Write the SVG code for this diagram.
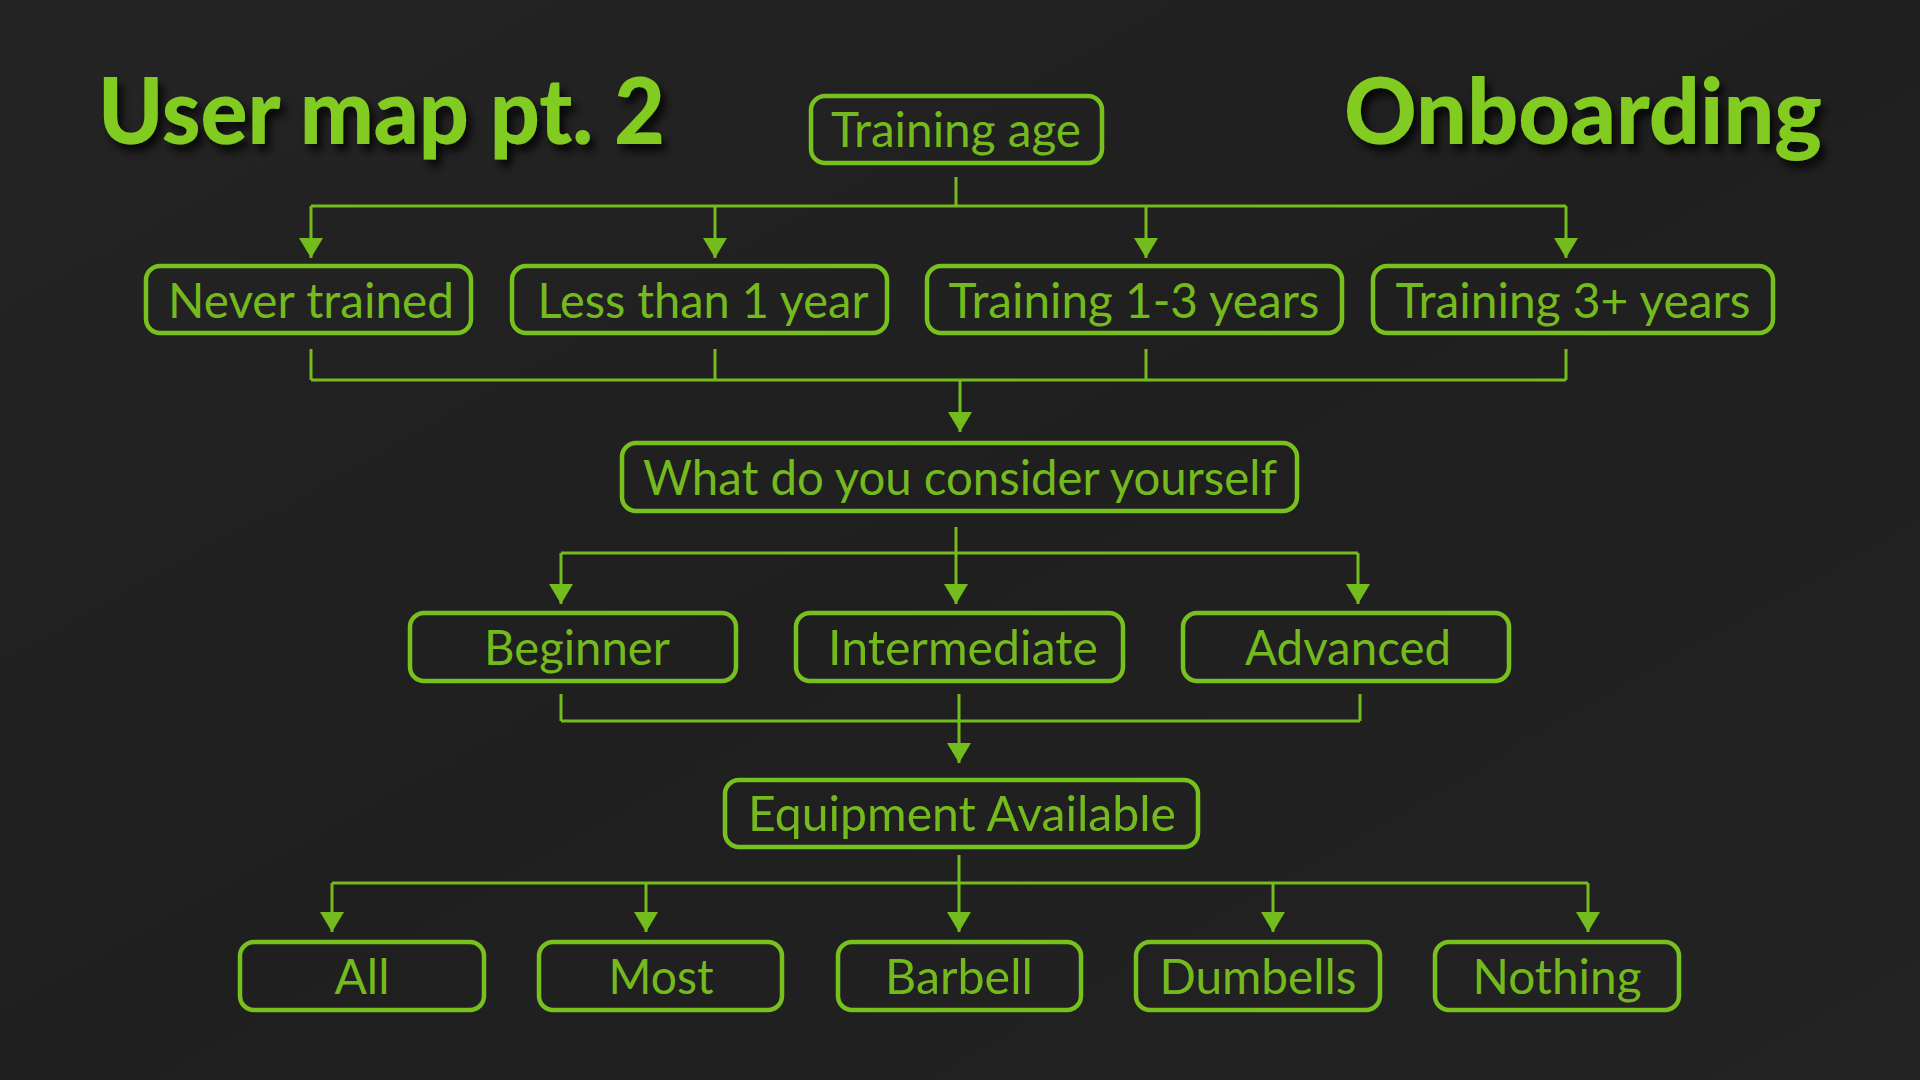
<svg xmlns="http://www.w3.org/2000/svg" width="1920" height="1080" viewBox="0 0 1920 1080">
<defs>
<linearGradient id="bg" x1="0" y1="0" x2="1" y2="1">
<stop offset="0" stop-color="#242424"/>
<stop offset="0.5" stop-color="#1f1f1f"/>
<stop offset="1" stop-color="#232323"/>
</linearGradient>
<filter id="tshadow" x="-10%" y="-20%" width="130%" height="160%">
<feDropShadow dx="5" dy="7" stdDeviation="4" flood-color="#000" flood-opacity="0.8"/>
</filter>
<marker id="arr" viewBox="0 0 20 24" refX="20" refY="12" markerWidth="20" markerHeight="24" markerUnits="userSpaceOnUse" orient="auto">
<path d="M0,0 L20,12 L0,24 z" fill="#74bb1d"/>
</marker>
</defs>
<style>
.box{fill:none;stroke:#77c01e;stroke-width:4.5}
.lbl{font-family:Lato,"Liberation Sans",sans-serif;font-size:48px;fill:#74ba1e;text-anchor:middle}
.title{font-family:Lato,"Liberation Sans",sans-serif;font-weight:900;font-size:91px;fill:#82cc22;filter:url(#tshadow)}
.con{fill:none;stroke:#74bb1d;stroke-width:3}
</style>
<rect width="1920" height="1080" fill="url(#bg)"/>

<text class="title" x="98" y="144" textLength="567" lengthAdjust="spacingAndGlyphs">User map pt. 2</text>
<text class="title" x="1344" y="144" textLength="478" lengthAdjust="spacingAndGlyphs">Onboarding</text>

<g id="connectors">
<path class="con" d="M956,177 V206 M311,206 H1566"/>
<path class="con" marker-end="url(#arr)" d="M311,206 V258"/>
<path class="con" marker-end="url(#arr)" d="M715,206 V258"/>
<path class="con" marker-end="url(#arr)" d="M1146,206 V258"/>
<path class="con" marker-end="url(#arr)" d="M1566,206 V258"/>
<path class="con" d="M311,349 V380 M715,349 V380 M1146,349 V380 M1566,349 V380 M311,380 H1566"/>
<path class="con" marker-end="url(#arr)" d="M960,380 V432"/>
<path class="con" d="M956,527 V553 M561,553 H1358"/>
<path class="con" marker-end="url(#arr)" d="M561,553 V604"/>
<path class="con" marker-end="url(#arr)" d="M956,553 V604"/>
<path class="con" marker-end="url(#arr)" d="M1358,553 V604"/>
<path class="con" d="M561,694 V721 M1360,694 V721 M561,721 H1360"/>
<path class="con" marker-end="url(#arr)" d="M959,694 V763"/>
<path class="con" d="M959,855 V883 M332,883 H1588"/>
<path class="con" marker-end="url(#arr)" d="M332,883 V932"/>
<path class="con" marker-end="url(#arr)" d="M646,883 V932"/>
<path class="con" marker-end="url(#arr)" d="M959,883 V932"/>
<path class="con" marker-end="url(#arr)" d="M1273,883 V932"/>
<path class="con" marker-end="url(#arr)" d="M1588,883 V932"/>
</g>

<g id="n-training-age"><rect class="box" x="811" y="96" width="291" height="67" rx="14"/><text class="lbl" x="956" y="147" textLength="250" lengthAdjust="spacingAndGlyphs">Training age</text></g>
<g id="n-never"><rect class="box" x="146" y="266" width="325" height="67" rx="14"/><text class="lbl" x="311" y="318" textLength="286" lengthAdjust="spacingAndGlyphs">Never trained</text></g>
<g id="n-less1"><rect class="box" x="512" y="266" width="375" height="67" rx="14"/><text class="lbl" x="703" y="318" textLength="331" lengthAdjust="spacingAndGlyphs">Less than 1 year</text></g>
<g id="n-1-3"><rect class="box" x="927" y="266" width="415" height="67" rx="14"/><text class="lbl" x="1134" y="318" textLength="371" lengthAdjust="spacingAndGlyphs">Training 1-3 years</text></g>
<g id="n-3plus"><rect class="box" x="1373" y="266" width="400" height="67" rx="14"/><text class="lbl" x="1573" y="318" textLength="355" lengthAdjust="spacingAndGlyphs">Training 3+ years</text></g>
<g id="n-consider"><rect class="box" x="622" y="443" width="675" height="68" rx="14"/><text class="lbl" x="960" y="495" textLength="634" lengthAdjust="spacingAndGlyphs">What do you consider yourself</text></g>
<g id="n-beginner"><rect class="box" x="410" y="613" width="326" height="68" rx="14"/><text class="lbl" x="577" y="665" textLength="186" lengthAdjust="spacingAndGlyphs">Beginner</text></g>
<g id="n-intermediate"><rect class="box" x="796" y="613" width="327" height="68" rx="14"/><text class="lbl" x="963" y="665" textLength="270" lengthAdjust="spacingAndGlyphs">Intermediate</text></g>
<g id="n-advanced"><rect class="box" x="1183" y="613" width="326" height="68" rx="14"/><text class="lbl" x="1348" y="665" textLength="206" lengthAdjust="spacingAndGlyphs">Advanced</text></g>
<g id="n-equipment"><rect class="box" x="725" y="780" width="473" height="67" rx="14"/><text class="lbl" x="962" y="831" textLength="428" lengthAdjust="spacingAndGlyphs">Equipment Available</text></g>
<g id="n-all"><rect class="box" x="240" y="942" width="244" height="68" rx="14"/><text class="lbl" x="362" y="994" textLength="55" lengthAdjust="spacingAndGlyphs">All</text></g>
<g id="n-most"><rect class="box" x="539" y="942" width="243" height="68" rx="14"/><text class="lbl" x="661" y="994" textLength="105" lengthAdjust="spacingAndGlyphs">Most</text></g>
<g id="n-barbell"><rect class="box" x="838" y="942" width="243" height="68" rx="14"/><text class="lbl" x="959" y="994" textLength="148" lengthAdjust="spacingAndGlyphs">Barbell</text></g>
<g id="n-dumbells"><rect class="box" x="1136" y="942" width="244" height="68" rx="14"/><text class="lbl" x="1258" y="994" textLength="197" lengthAdjust="spacingAndGlyphs">Dumbells</text></g>
<g id="n-nothing"><rect class="box" x="1435" y="942" width="244" height="68" rx="14"/><text class="lbl" x="1557" y="994" textLength="169" lengthAdjust="spacingAndGlyphs">Nothing</text></g>
</svg>
